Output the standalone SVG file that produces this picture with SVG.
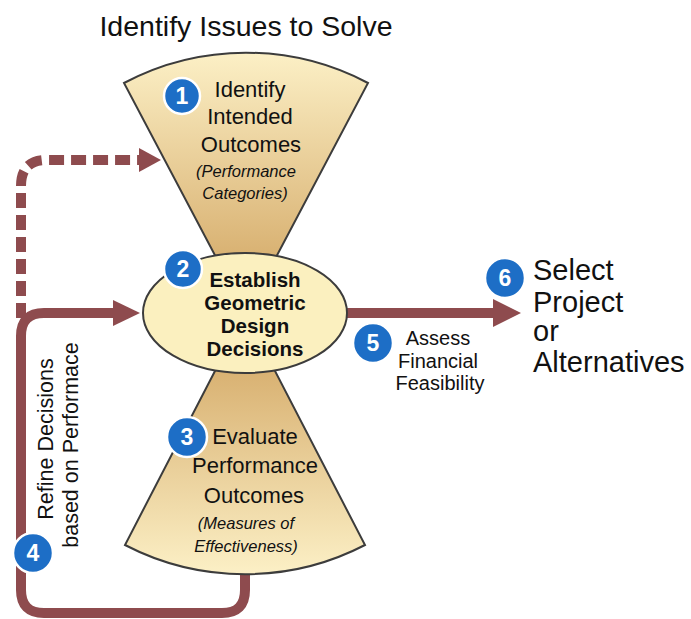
<svg xmlns="http://www.w3.org/2000/svg" width="691" height="619" viewBox="0 0 691 619">
<style>
.t{font-family:"Liberation Sans",Arial,sans-serif;fill:#111;}
.m{font-size:22px;text-anchor:middle;}
.i{font-size:16.5px;font-style:italic;text-anchor:middle;}
.b{font-size:20.5px;font-weight:bold;text-anchor:middle;}
.shape{stroke:#3c3c3c;stroke-width:2;}
.conn{fill:none;stroke:#8e4b4e;stroke-width:10;}
.head{fill:#8e4b4e;}
.badge circle{fill:#1d6ec6;stroke:#fff;stroke-width:2.5;}
.badge text{font-family:"Liberation Sans",Arial,sans-serif;font-weight:bold;font-size:23px;fill:#fff;text-anchor:middle;}
</style>
<defs>
<linearGradient id="gTop" gradientUnits="userSpaceOnUse" x1="0" y1="52" x2="0" y2="255">
<stop offset="0" stop-color="#fcf0c6"/>
<stop offset="1" stop-color="#d9b273"/>
</linearGradient>
<linearGradient id="gBot" gradientUnits="userSpaceOnUse" x1="0" y1="372" x2="0" y2="575">
<stop offset="0" stop-color="#d9b273"/>
<stop offset="1" stop-color="#fcf0c6"/>
</linearGradient>
</defs>
<rect width="691" height="619" fill="#fff"/>

<text class="t" x="246" y="36" font-size="28.5" text-anchor="middle">Identify Issues to Solve</text>

<g id="connectors">
<path class="conn" d="M245,560 V590 Q245,613 222,613 H44 Q21,613 21,590 V336 Q21,313 44,313 H116"/>
<polygon class="head" points="113,300 140,313 113,326"/>
<path class="conn" d="M21,318 V186 Q21,160 47,160 H140" stroke-dasharray="15 7" stroke-width="9"/>
<polygon class="head" points="139,148 161,160 139,172"/>
<path class="conn" d="M345,313 H495"/>
<polygon class="head" points="493,299 521,313 493,327"/>
</g>

<g id="node1">
<path class="shape" fill="url(#gTop)" d="M246,314 L124,83 A261,261 0 0 1 368,83 Z"/>
<text class="t m" x="250" y="97">Identify</text>
<text class="t m" x="250" y="124">Intended</text>
<text class="t m" x="251" y="152">Outcomes</text>
<text class="t i" x="246" y="177">(Performance</text>
<text class="t i" x="245" y="199">Categories)</text>
</g>

<g id="node3">
<path class="shape" fill="url(#gBot)" d="M245,313 L125,545 A261,261 0 0 0 365,545 Z"/>
<text class="t m" x="255" y="444">Evaluate</text>
<text class="t m" x="255" y="473">Performance</text>
<text class="t m" x="254" y="503">Outcomes</text>
<text class="t i" x="246" y="529">(Measures of</text>
<text class="t i" x="246" y="552">Effectiveness)</text>
</g>

<g id="node2">
<ellipse class="shape" cx="245" cy="313" rx="102" ry="60" fill="#fbf0bf"/>
<text class="t b" x="255" y="287">Establish</text>
<text class="t b" x="255" y="310">Geometric</text>
<text class="t b" x="255" y="333">Design</text>
<text class="t b" x="255" y="356">Decisions</text>
</g>

<g id="node4">
<text class="t" font-size="21.5" text-anchor="middle" transform="translate(53,439) rotate(-90)">Refine Decisions</text>
<text class="t" font-size="21.5" text-anchor="middle" transform="translate(78,445) rotate(-90)">based on Performace</text>
</g>

<g id="node5">
<text class="t" font-size="20" text-anchor="middle" x="438" y="345">Assess</text>
<text class="t" font-size="20" text-anchor="middle" x="438" y="368">Financial</text>
<text class="t" font-size="20" text-anchor="middle" x="440" y="390">Feasibility</text>
</g>

<g id="node6">
<text class="t" font-size="29" x="533" y="280">Select</text>
<text class="t" font-size="29" x="533" y="312">Project</text>
<text class="t" font-size="29" x="533" y="341">or</text>
<text class="t" font-size="29" x="533" y="372">Alternatives</text>
</g>

<g id="badges">
<g class="badge"><circle cx="182" cy="96" r="18"/><text x="182" y="104">1</text></g>
<g class="badge"><circle cx="183" cy="269" r="19"/><text x="183" y="277">2</text></g>
<g class="badge"><circle cx="187" cy="437" r="20"/><text x="187" y="445">3</text></g>
<g class="badge"><circle cx="33" cy="553" r="20"/><text x="33" y="561">4</text></g>
<g class="badge"><circle cx="373" cy="343" r="20"/><text x="373" y="351">5</text></g>
<g class="badge"><circle cx="505" cy="278" r="20"/><text x="505" y="286">6</text></g>
</g>
</svg>
